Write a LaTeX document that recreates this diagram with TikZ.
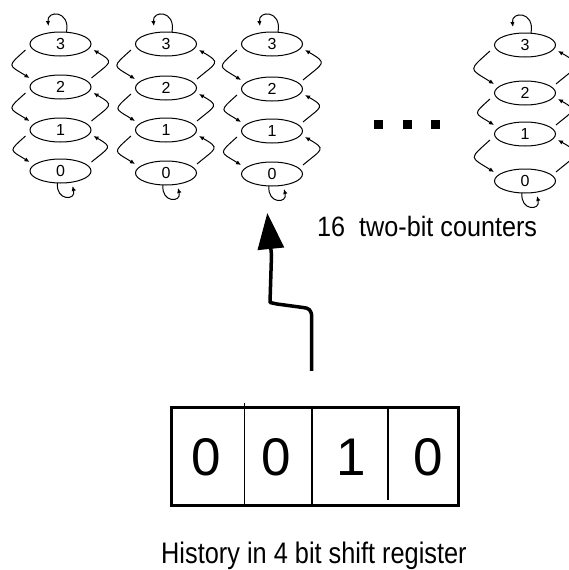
\documentclass[tikz,border=0pt]{standalone}
\usepackage{fontspec}
\setmainfont{Liberation Sans}
\usetikzlibrary{shapes.geometric,arrows.meta}
\newcommand{\mkcounter}[6]{%
  \node[stnode] (#1-3) at (#2,-#3) {3};
  \node[stnode] (#1-2) at (#2,-#4) {2};
  \node[stnode] (#1-1) at (#2,-#5) {1};
  \node[stnode] (#1-0) at (#2,-#6) {0};
  \foreach \hi/\lo in {3/2,2/1,1/0}{
    \draw[arc] ([shift={(-35,-6)}]#1-\hi.center) to[out=222,in=148,looseness=2.3] ([shift={(-31,9)}]#1-\lo.center);
    \draw[arc] ([shift={(31,9)}]#1-\lo.center) to[out=40,in=330,looseness=2.3] ([shift={(33,-6)}]#1-\hi.center);
  }
  \draw[arc] ([shift={(6,12)}]#1-3.center) .. controls ([shift={(10,34)}]#1-3.center) and ([shift={(-14,34)}]#1-3.center) .. ([shift={(-12,18)}]#1-3.center);
  \draw[arc] ([shift={(-3,-12)}]#1-0.center) .. controls ([shift={(-5,-30)}]#1-0.center) and ([shift={(16,-30)}]#1-0.center) .. ([shift={(12,-15)}]#1-0.center);
}
\tikzset{
  stnode/.style={draw, ellipse, minimum width=61pt, minimum height=24pt, inner sep=0pt, line width=1pt, font=\fontsize{16}{16}\selectfont},
  arc/.style={line width=1pt, -{Latex[length=5pt,width=4.5pt]}},
  digit/.style={inner sep=0pt, font=\fontsize{53}{53}\selectfont},
  dotsq/.style={fill=black, minimum size=9pt, inner sep=0pt},
  bigarrow/.style={line width=3.5pt, line join=round, -{Triangle[length=36pt,width=26pt]}}
}
\begin{document}
\begin{tikzpicture}[x=1pt,y=1pt]
\useasboundingbox (0,0) rectangle (569,-570);
\fill[white] (0,0) rectangle (569,-570);
\mkcounter{ca}{60.5}{44}{87}{130}{171}
\mkcounter{cb}{166}{44}{88}{130}{173}
\mkcounter{cc}{272}{44}{89}{131}{174}
\mkcounter{cd}{525}{45}{93}{134}{181}
\node[dotsq] (d1) at (378.5,-124.5) {};
\node[dotsq] (d2) at (407,-124.5) {};
\node[dotsq] (d3) at (435,-124.5) {};
\node[anchor=base west, inner sep=0pt, font=\fontsize{28}{28}\selectfont] (lab1) at (317,-236.7) {\scalebox{0.9}[1]{16\ \ two-bit counters}};
\node[draw, line width=3pt, minimum width=286.6pt, minimum height=97.7pt, inner sep=0pt] (reg) at (315,-456.2) {};
\draw[line width=1pt] ([xshift=74pt,yshift=3pt]reg.north west) -- ([xshift=74pt]reg.south west);
\draw[line width=2pt] ([xshift=141.6pt]reg.north west) -- ([xshift=141.6pt]reg.south west);
\draw[line width=2pt] ([xshift=217.6pt]reg.north west) -- ([xshift=217.6pt,yshift=7pt]reg.south west);
\node[digit] (b1) at (205.8,-457.5) {0};
\node[digit] (b2) at (276.7,-457.5) {0};
\node[digit] (b3) at (351,-457.5) {1};
\node[digit] (b4) at (428,-457.5) {0};
\node[anchor=base west, inner sep=0pt, font=\fontsize{29.7}{30}\selectfont] (lab2) at (161,-563) {\scalebox{0.853}[1]{History in 4 bit shift register}};
\coordinate (tail) at ([yshift=35pt]reg.north -| 311.7,0);
\coordinate (tip) at ([shift={(-4.7,-39)}]cc-0.center);
\draw[bigarrow] (tail) -- (311.7,-317) .. controls (311.5,-310) and (309,-308) .. (303,-307.5) -- (277,-304) -- (270,-302.5) -- (271.5,-255) -- (tip);
\end{tikzpicture}
\end{document}
